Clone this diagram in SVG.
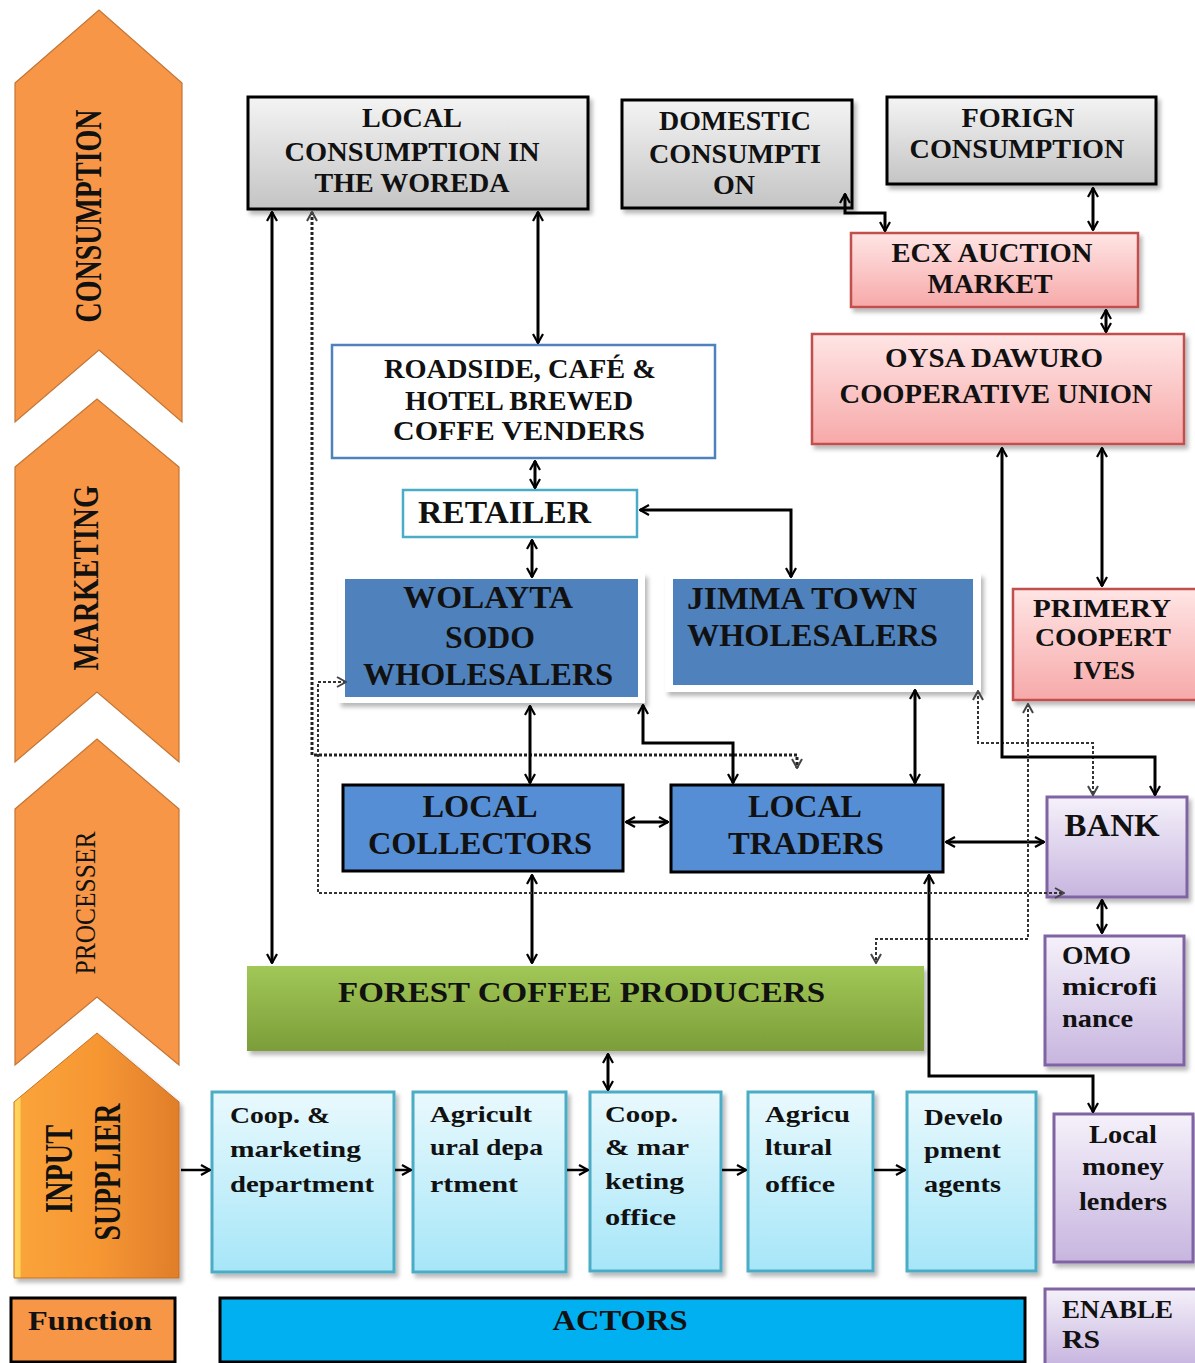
<svg xmlns="http://www.w3.org/2000/svg" width="1195" height="1363" viewBox="0 0 1195 1363">
<defs>
  <linearGradient id="gGray" x1="0" y1="0" x2="0" y2="1"><stop offset="0" stop-color="#F4F4F4"/><stop offset="1" stop-color="#C4C4C4"/></linearGradient>
  <linearGradient id="gPink" x1="0" y1="0" x2="0" y2="1"><stop offset="0" stop-color="#FFE5E5"/><stop offset="1" stop-color="#F7A9A9"/></linearGradient>
  <linearGradient id="gPurple" x1="0" y1="0" x2="0" y2="1"><stop offset="0" stop-color="#F5F1FA"/><stop offset="1" stop-color="#C7B5DF"/></linearGradient>
  <linearGradient id="gCyan" x1="0" y1="0" x2="0" y2="1"><stop offset="0" stop-color="#E9F9FD"/><stop offset="1" stop-color="#A6E6F8"/></linearGradient>
  <linearGradient id="gGreen" x1="0" y1="0" x2="0" y2="1"><stop offset="0" stop-color="#A1C757"/><stop offset="1" stop-color="#7C9D39"/></linearGradient>
  <linearGradient id="gOrange" x1="0" y1="0" x2="1" y2="0"><stop offset="0" stop-color="#FFD25A"/><stop offset="0.035" stop-color="#FFD25A"/><stop offset="0.045" stop-color="#FAA33A"/><stop offset="0.5" stop-color="#F69733"/><stop offset="1" stop-color="#E07E2B"/></linearGradient>
  <filter id="sh" x="-5%" y="-5%" width="115%" height="125%"><feDropShadow dx="3" dy="4" stdDeviation="2" flood-color="#000" flood-opacity="0.28"/></filter>
  <marker id="a" viewBox="0 0 12 12" refX="11" refY="6" markerWidth="12" markerHeight="12" markerUnits="userSpaceOnUse" orient="auto-start-reverse">
    <path d="M2,1 L11,6 L2,11" fill="none" stroke="#000" stroke-width="2.2"/>
  </marker>
  <marker id="ag" viewBox="0 0 12 12" refX="11" refY="6" markerWidth="12" markerHeight="12" markerUnits="userSpaceOnUse" orient="auto-start-reverse">
    <path d="M2,1 L11,6 L2,11" fill="none" stroke="#444" stroke-width="2"/>
  </marker>
</defs>
<style>
  text{font-family:"Liberation Serif","Times New Roman",serif;font-weight:bold;fill:#111}
  .c{text-anchor:middle}
  .n{font-weight:normal}
  .gray{fill:url(#gGray);stroke:#000;stroke-width:3}
  .pink{fill:url(#gPink);stroke:#C0504D;stroke-width:2.5}
  .purple{fill:url(#gPurple);stroke:#8064A2;stroke-width:3}
  .cyan{fill:url(#gCyan);stroke:#4BACC6;stroke-width:3}
  .chev{fill:#F79646;stroke:#C47535;stroke-width:1.2}
  .blue{fill:#4F81BD}
  .blueb{fill:#558ED5;stroke:#000;stroke-width:3}
  .frame{fill:#fff}
  .ln{fill:none;stroke:#000;stroke-width:3;marker-start:url(#a);marker-end:url(#a)}
  .one{fill:none;stroke:#000;stroke-width:2.5;marker-end:url(#a)}
  .dt{fill:none;stroke:#222;stroke-width:3;stroke-dasharray:3 2;marker-start:url(#ag);marker-end:url(#ag)}
  .dn{fill:none;stroke:#333;stroke-width:2;stroke-dasharray:3 2;marker-start:url(#ag);marker-end:url(#ag)}
</style>
<rect width="1195" height="1363" fill="#fff"/>

<!-- Function chevrons -->
<g id="fn-consumption">
  <polygon class="chev" points="15,83 99,10 182,83 182,422 99,350 15,422"/>
  <text class="c" font-size="38" textLength="213" lengthAdjust="spacingAndGlyphs" transform="translate(101,216) rotate(-90)">CONSUMPTION</text>
</g>
<g id="fn-marketing">
  <polygon class="chev" points="15,467 97,399 179,467 179,762 97,692 15,762"/>
  <text class="c" font-size="35" textLength="185" lengthAdjust="spacingAndGlyphs" transform="translate(98,578) rotate(-90)">MARKETING</text>
</g>
<g id="fn-processer">
  <polygon class="chev" points="15,809 97,739 179,809 179,1065 97,997 15,1065"/>
  <text class="c n" font-size="30" textLength="143" lengthAdjust="spacingAndGlyphs" transform="translate(95,903) rotate(-90)">PROCESSER</text>
</g>
<g id="fn-input">
  <polygon points="14,1102 97,1033 179,1102 179,1278 14,1278" fill="url(#gOrange)" stroke="#C86E25" stroke-width="1" filter="url(#sh)"/>
  <text class="c" font-size="40" textLength="88" lengthAdjust="spacingAndGlyphs" transform="translate(72,1169) rotate(-90)">INPUT</text>
  <text class="c" font-size="38" textLength="137" lengthAdjust="spacingAndGlyphs" transform="translate(120,1172) rotate(-90)">SUPPLIER</text>
</g>

<!-- Nodes -->
<g id="local-consumption">
  <rect class="gray" x="248" y="97" width="340" height="112" filter="url(#sh)"/>
  <text class="c" x="412" y="127" font-size="27" textLength="100" lengthAdjust="spacingAndGlyphs">LOCAL</text>
  <text class="c" x="412" y="161" font-size="27" textLength="255" lengthAdjust="spacingAndGlyphs">CONSUMPTION IN</text>
  <text class="c" x="412" y="192" font-size="27" textLength="195" lengthAdjust="spacingAndGlyphs">THE WOREDA</text>
</g>
<g id="domestic-consumption">
  <rect class="gray" x="622" y="100" width="230" height="108" filter="url(#sh)"/>
  <text class="c" x="735" y="130" font-size="27" textLength="152" lengthAdjust="spacingAndGlyphs">DOMESTIC</text>
  <text class="c" x="735" y="163" font-size="27" textLength="172" lengthAdjust="spacingAndGlyphs">CONSUMPTI</text>
  <text class="c" x="734" y="194" font-size="27" textLength="42" lengthAdjust="spacingAndGlyphs">ON</text>
</g>
<g id="foreign-consumption">
  <rect class="gray" x="887" y="97" width="269" height="87" filter="url(#sh)"/>
  <text class="c" x="1018" y="127" font-size="27" textLength="113" lengthAdjust="spacingAndGlyphs">FORIGN</text>
  <text class="c" x="1017" y="158" font-size="27" textLength="215" lengthAdjust="spacingAndGlyphs">CONSUMPTION</text>
</g>
<g id="ecx">
  <rect class="pink" x="851" y="233" width="287" height="74" filter="url(#sh)"/>
  <text class="c" x="992" y="262" font-size="27" textLength="201" lengthAdjust="spacingAndGlyphs">ECX AUCTION</text>
  <text class="c" x="990" y="293" font-size="27" textLength="125" lengthAdjust="spacingAndGlyphs">MARKET</text>
</g>
<g id="oysa">
  <rect class="pink" x="812" y="334" width="372" height="110" filter="url(#sh)"/>
  <text class="c" x="994" y="367" font-size="27" textLength="218" lengthAdjust="spacingAndGlyphs">OYSA DAWURO</text>
  <text class="c" x="996" y="403" font-size="27" textLength="313" lengthAdjust="spacingAndGlyphs">COOPERATIVE UNION</text>
</g>
<g id="roadside">
  <rect x="332" y="345" width="383" height="113" fill="#fff" stroke="#4F81BD" stroke-width="2.5"/>
  <text class="c" x="520" y="378" font-size="27" textLength="272" lengthAdjust="spacingAndGlyphs">ROADSIDE, CAFÉ &amp;</text>
  <text class="c" x="519" y="410" font-size="27" textLength="228" lengthAdjust="spacingAndGlyphs">HOTEL BREWED</text>
  <text class="c" x="519" y="440" font-size="27" textLength="252" lengthAdjust="spacingAndGlyphs">COFFE VENDERS</text>
</g>
<g id="retailer">
  <rect x="403" y="490" width="234" height="47" fill="#fff" stroke="#4BACC6" stroke-width="2.5"/>
  <text x="418" y="523" font-size="32" textLength="173" lengthAdjust="spacingAndGlyphs">RETAILER</text>
</g>
<g id="wolayta">
  <rect class="frame" x="338" y="573" width="307" height="130" filter="url(#sh)"/>
  <rect class="blue" x="345" y="579" width="293" height="118"/>
  <text class="c" x="488" y="608" font-size="32" textLength="170" lengthAdjust="spacingAndGlyphs">WOLAYTA</text>
  <text class="c" x="490" y="648" font-size="32" textLength="90" lengthAdjust="spacingAndGlyphs">SODO</text>
  <text class="c" x="488" y="685" font-size="32" textLength="250" lengthAdjust="spacingAndGlyphs">WHOLESALERS</text>
</g>
<g id="jimma">
  <rect class="frame" x="665" y="573" width="316" height="119" filter="url(#sh)"/>
  <rect class="blue" x="673" y="579" width="300" height="106"/>
  <text x="687" y="609" font-size="32" textLength="230" lengthAdjust="spacingAndGlyphs">JIMMA TOWN</text>
  <text x="687" y="646" font-size="32" textLength="251" lengthAdjust="spacingAndGlyphs">WHOLESALERS</text>
</g>
<g id="primary-cooperatives">
  <rect class="pink" x="1013" y="589" width="186" height="111" filter="url(#sh)"/>
  <text class="c" x="1102" y="617" font-size="26" textLength="138" lengthAdjust="spacingAndGlyphs">PRIMERY</text>
  <text class="c" x="1103" y="646" font-size="26" textLength="136" lengthAdjust="spacingAndGlyphs">COOPERT</text>
  <text class="c" x="1104" y="679" font-size="26" textLength="62" lengthAdjust="spacingAndGlyphs">IVES</text>
</g>
<g id="local-collectors">
  <rect class="blueb" x="343" y="785" width="280" height="86"/>
  <text class="c" x="480" y="817" font-size="32" textLength="115" lengthAdjust="spacingAndGlyphs">LOCAL</text>
  <text class="c" x="480" y="854" font-size="32" textLength="224" lengthAdjust="spacingAndGlyphs">COLLECTORS</text>
</g>
<g id="local-traders">
  <rect class="blueb" x="671" y="785" width="272" height="87"/>
  <text class="c" x="805" y="817" font-size="32" textLength="114" lengthAdjust="spacingAndGlyphs">LOCAL</text>
  <text class="c" x="806" y="854" font-size="32" textLength="156" lengthAdjust="spacingAndGlyphs">TRADERS</text>
</g>
<g id="bank">
  <rect class="purple" x="1047" y="797" width="140" height="100" filter="url(#sh)"/>
  <text class="c" x="1112" y="836" font-size="32" textLength="95" lengthAdjust="spacingAndGlyphs">BANK</text>
</g>
<g id="forest-coffee-producers">
  <rect x="247" y="966" width="677" height="85" fill="url(#gGreen)" filter="url(#sh)"/>
  <text x="338" y="1002" font-size="30" textLength="487" lengthAdjust="spacingAndGlyphs">FOREST  COFFEE  PRODUCERS</text>
</g>
<g id="omo">
  <rect class="purple" x="1045" y="936" width="139" height="129" filter="url(#sh)"/>
  <text x="1062" y="964" font-size="26" textLength="69" lengthAdjust="spacingAndGlyphs">OMO</text>
  <text x="1062" y="995" font-size="26" textLength="95" lengthAdjust="spacingAndGlyphs">microfi</text>
  <text x="1062" y="1027" font-size="26" textLength="71" lengthAdjust="spacingAndGlyphs">nance</text>
</g>
<g id="coop-marketing-department">
  <rect class="cyan" x="212" y="1092" width="182" height="180" filter="url(#sh)"/>
  <text x="230" y="1123" font-size="23" textLength="100" lengthAdjust="spacingAndGlyphs">Coop. &amp;</text>
  <text x="230" y="1157" font-size="23" textLength="131" lengthAdjust="spacingAndGlyphs">marketing</text>
  <text x="230" y="1192" font-size="23" textLength="144" lengthAdjust="spacingAndGlyphs">department</text>
</g>
<g id="agricultural-department">
  <rect class="cyan" x="413" y="1092" width="153" height="180" filter="url(#sh)"/>
  <text x="430" y="1122" font-size="23" textLength="102" lengthAdjust="spacingAndGlyphs">Agricult</text>
  <text x="430" y="1155" font-size="23" textLength="113" lengthAdjust="spacingAndGlyphs">ural depa</text>
  <text x="430" y="1192" font-size="23" textLength="88" lengthAdjust="spacingAndGlyphs">rtment</text>
</g>
<g id="coop-marketing-office">
  <rect class="cyan" x="590" y="1092" width="131" height="179" filter="url(#sh)"/>
  <text x="605" y="1122" font-size="23" textLength="73" lengthAdjust="spacingAndGlyphs">Coop.</text>
  <text x="605" y="1155" font-size="23" textLength="84" lengthAdjust="spacingAndGlyphs">&amp; mar</text>
  <text x="605" y="1189" font-size="23" textLength="79" lengthAdjust="spacingAndGlyphs">keting</text>
  <text x="605" y="1225" font-size="23" textLength="71" lengthAdjust="spacingAndGlyphs">office</text>
</g>
<g id="agricultural-office">
  <rect class="cyan" x="748" y="1092" width="125" height="179" filter="url(#sh)"/>
  <text x="765" y="1122" font-size="23" textLength="85" lengthAdjust="spacingAndGlyphs">Agricu</text>
  <text x="765" y="1155" font-size="23" textLength="67" lengthAdjust="spacingAndGlyphs">ltural</text>
  <text x="765" y="1192" font-size="23" textLength="70" lengthAdjust="spacingAndGlyphs">office</text>
</g>
<g id="development-agents">
  <rect class="cyan" x="907" y="1092" width="129" height="179" filter="url(#sh)"/>
  <text x="924" y="1125" font-size="23" textLength="79" lengthAdjust="spacingAndGlyphs">Develo</text>
  <text x="924" y="1158" font-size="23" textLength="77" lengthAdjust="spacingAndGlyphs">pment</text>
  <text x="924" y="1192" font-size="23" textLength="77" lengthAdjust="spacingAndGlyphs">agents</text>
</g>
<g id="local-money-lenders">
  <rect class="purple" x="1054" y="1114" width="139" height="148" filter="url(#sh)"/>
  <text class="c" x="1123" y="1143" font-size="25" textLength="68" lengthAdjust="spacingAndGlyphs">Local</text>
  <text class="c" x="1123" y="1175" font-size="25" textLength="82" lengthAdjust="spacingAndGlyphs">money</text>
  <text class="c" x="1123" y="1210" font-size="25" textLength="88" lengthAdjust="spacingAndGlyphs">lenders</text>
</g>
<g id="legend-function">
  <rect x="11" y="1298" width="164" height="64" fill="#F79646" stroke="#000" stroke-width="3"/>
  <text x="28" y="1330" font-size="28" textLength="124" lengthAdjust="spacingAndGlyphs">Function</text>
</g>
<g id="legend-actors">
  <rect x="220" y="1298" width="805" height="64" fill="#00B0F0" stroke="#000" stroke-width="3"/>
  <text class="c" x="620" y="1330" font-size="30" textLength="135" lengthAdjust="spacingAndGlyphs">ACTORS</text>
</g>
<g id="legend-enablers">
  <rect class="purple" x="1045" y="1289" width="152" height="76"/>
  <text x="1062" y="1318" font-size="26" textLength="111" lengthAdjust="spacingAndGlyphs">ENABLE</text>
  <text x="1062" y="1348" font-size="26" textLength="38" lengthAdjust="spacingAndGlyphs">RS</text>
</g>

<!-- Connectors -->
<g id="connectors">
  <path class="ln" d="M272,212 V963"/>
  <path class="dt" d="M312,212 V755 H797 V768"/>
  <path class="ln" d="M538,212 V343"/>
  <path class="ln" d="M535,461 V488"/>
  <path class="ln" d="M532,540 V577"/>
  <path class="ln" d="M640,510 H791 V577"/>
  <path class="ln" d="M530,706 V783"/>
  <path class="ln" d="M643,705 V743 H733 V783"/>
  <path class="ln" d="M915,690 V783"/>
  <path class="ln" d="M626,822 H668"/>
  <path class="ln" d="M946,842 H1044"/>
  <path class="ln" d="M532,875 V963"/>
  <path class="dn" d="M978,691 V743 H1093 V795"/>
  <path class="ln" d="M1002,448 V757 H1155 V795"/>
  <path class="ln" d="M1102,448 V586"/>
  <path class="dn" d="M1028,704 V939 H876 V963"/>
  <path class="ln" d="M929,875 V1076 H1093 V1112"/>
  <path class="dn" d="M346,682 H318 V893 H1064"/>
  <path class="ln" d="M845,194 V213 H885 V231"/>
  <path class="ln" d="M1093,188 V230"/>
  <path class="ln" d="M1106,310 V332"/>
  <path class="ln" d="M1102,900 V933"/>
  <path class="ln" d="M608,1054 V1090"/>
  <path class="one" d="M181,1170 H210"/>
  <path class="one" d="M395,1170 H411"/>
  <path class="one" d="M567,1170 H588"/>
  <path class="one" d="M722,1170 H746"/>
  <path class="one" d="M874,1170 H905"/>
</g>
</svg>
